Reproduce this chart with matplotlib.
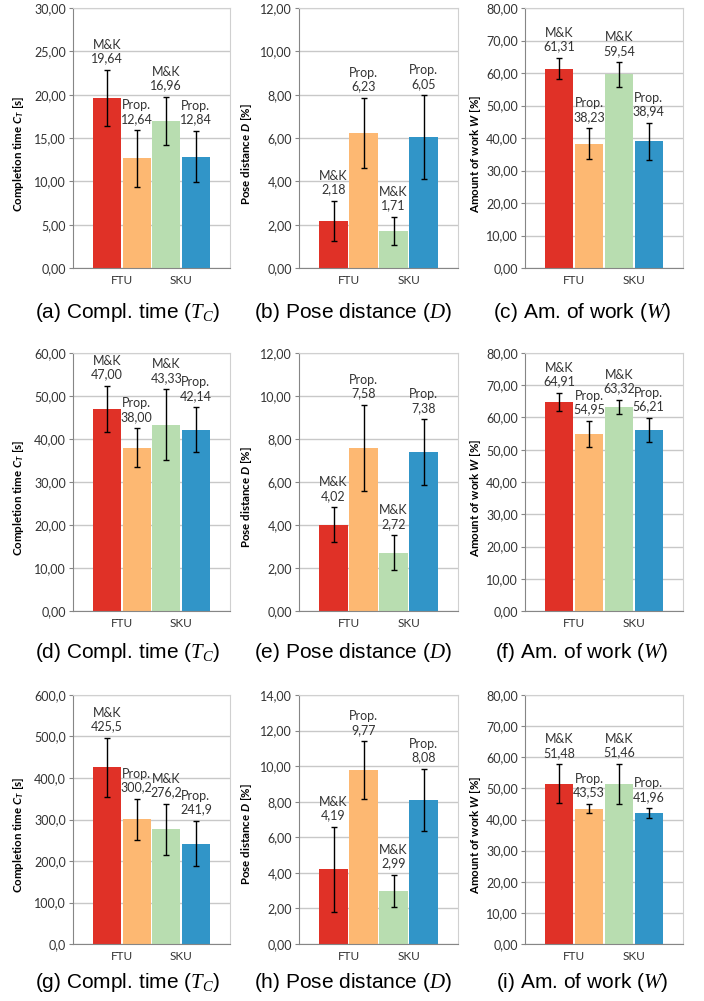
"""Bar charts comparing M&K and the proposed method (FTU / SKU) in three studies."""

from matplotlib import pyplot as plt
from matplotlib.ticker import FuncFormatter
import numpy as np

# bars in each panel: FTU M&K, FTU Prop., SKU M&K, SKU Prop.
groups = ["FTU", "SKU"]
methods = ["M&K", "Prop.", "M&K", "Prop."]
colors = ["#E03127", "#FDB872", "#B8DDB0", "#3195C8"]

time_1 = [19.64, 12.64, 16.96, 12.84]
time_1_err = [3.2, 3.25, 2.75, 2.95]
dist_1 = [2.18, 6.23, 1.71, 6.05]
dist_1_err = [0.92, 1.63, 0.66, 1.92]
work_1 = [61.31, 38.23, 59.54, 38.94]
work_1_err = [3.3, 4.7, 3.7, 5.7]

time_2 = [47.00, 38.00, 43.33, 42.14]
time_2_err = [5.3, 4.5, 8.2, 5.2]
dist_2 = [4.02, 7.58, 2.72, 7.38]
dist_2_err = [0.8, 2.0, 0.8, 1.54]
work_2 = [64.91, 54.95, 63.32, 56.21]
work_2_err = [2.8, 4.1, 2.2, 3.7]

time_3 = [425.5, 300.2, 276.2, 241.9]
time_3_err = [71, 50, 62, 55]
dist_3 = [4.19, 9.77, 2.99, 8.08]
dist_3_err = [2.4, 1.62, 0.9, 1.75]
work_3 = [51.48, 43.53, 51.46, 41.96]
work_3_err = [6.2, 1.5, 6.4, 1.6]

ylabel_time = r"Completion time $\mathbfit{C}_{\mathbfit{T}}$ [s]"
ylabel_dist = r"Pose distance $\mathbfit{D}$ [%]"
ylabel_work = r"Amount of work $\mathbfit{W}$ [%]"

captions = [
    "(a) Compl. time ($T_C$)", "(b) Pose distance ($D$)", "(c) Am. of work ($W$)",
    "(d) Compl. time ($T_C$)", "(e) Pose distance ($D$)", "(f) Am. of work ($W$)",
    "(g) Compl. time ($T_C$)", "(h) Pose distance ($D$)", "(i) Am. of work ($W$)",
]

# (values, errors, y label, y max, y step, decimals)
panels = [
    (time_1, time_1_err, ylabel_time, 30, 5, 2),
    (dist_1, dist_1_err, ylabel_dist, 12, 2, 2),
    (work_1, work_1_err, ylabel_work, 80, 10, 2),
    (time_2, time_2_err, ylabel_time, 60, 10, 2),
    (dist_2, dist_2_err, ylabel_dist, 12, 2, 2),
    (work_2, work_2_err, ylabel_work, 80, 10, 2),
    (time_3, time_3_err, ylabel_time, 600, 100, 1),
    (dist_3, dist_3_err, ylabel_dist, 14, 2, 2),
    (work_3, work_3_err, ylabel_work, 80, 10, 2),
]

plt.rcParams["font.family"] = ["Lato", "DejaVu Sans"]
plt.rcParams["mathtext.fontset"] = "custom"
plt.rcParams["mathtext.rm"] = "Liberation Sans"
plt.rcParams["mathtext.it"] = "Liberation Serif:italic"
plt.rcParams["mathtext.bf"] = "Lato:bold"
plt.rcParams["mathtext.bfit"] = "Lato:bold:italic"

W, H = 704, 1001
fig = plt.figure(figsize=(W / 100, H / 100), dpi=100)

# pixel layout of the plot areas
col_left = [73, 299, 525]
col_width = [157, 159, 158]
row_top = [8, 353, 695]
row_bottom = [268, 611, 944]
caption_x = [127, 353, 582]
caption_y = [312, 652, 982]
ylabel_x = [-0.30, -0.285, -0.265]

TEXT = "#333333"


def comma(v, decimals):
    return f"{v:.{decimals}f}".replace(".", ",")


for i, (vals, errs, ylabel, ymax, ystep, dec) in enumerate(panels):
    r, c = divmod(i, 3)
    rect = [col_left[c] / W, 1 - row_bottom[r] / H,
            col_width[c] / W, (row_bottom[r] - row_top[r]) / H]
    ax = fig.add_axes(rect)
    x = np.arange(len(vals))

    ax.bar(x, vals, width=0.94, color=colors, zorder=2)
    ax.errorbar(x, vals, yerr=errs, fmt="none", ecolor="black",
                elinewidth=1, capsize=2, capthick=1, zorder=3)
    for xi, v, e, m in zip(x, vals, errs, methods):
        ax.annotate(f"{m}\n{comma(v, dec)}", xy=(xi, v + e), xytext=(0, 4),
                    textcoords="offset points", ha="center", va="bottom",
                    fontsize=9, color=TEXT, linespacing=1.15)

    ax.set_xlim(-1.15, 4.15)
    ax.set_ylim(0, ymax)
    ax.set_yticks(np.arange(0, ymax + ystep / 2, ystep))
    ax.yaxis.set_major_formatter(FuncFormatter(lambda v, p, d=dec: comma(v, d)))
    ax.set_xticks([0.5, 2.5], groups)
    ax.tick_params(axis="x", length=0, pad=5, labelsize=8.5, labelcolor=TEXT)
    ax.tick_params(axis="y", length=3, color="#868686", pad=2,
                   labelsize=9, labelcolor=TEXT)
    ax.yaxis.grid(True, color="#c8c8c8", lw=1)
    ax.set_axisbelow(True)
    for side in ["top", "right"]:
        ax.spines[side].set_color("#d0d0d0")
    for side in ["left", "bottom"]:
        ax.spines[side].set_color("#868686")

    ax.set_ylabel(ylabel, fontsize=8.3, fontweight="bold", color="black")
    ax.yaxis.set_label_coords(ylabel_x[c], 0.44)

    fig.text(caption_x[c] / W, 1 - caption_y[r] / H, captions[i],
             ha="center", va="center", fontsize=15, family="Liberation Sans")

fig.savefig("out.png", dpi=100)
